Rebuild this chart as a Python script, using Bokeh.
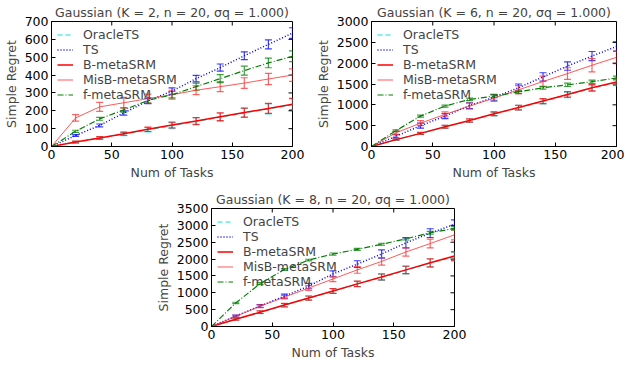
import math
from bokeh.plotting import figure
from bokeh.models import Whisker, ColumnDataSource, FixedTicker, TeeHead, Range1d, Spacer
from bokeh.layouts import row, column
from bokeh.embed import file_html
from bokeh.resources import INLINE

tasks = [0, 20, 40, 60, 80, 100, 120, 140, 160, 180, 200]
series_names = ["OracleTS", "TS", "B-metaSRM", "MisB-metaSRM", "f-metaSRM"]

# K = 2
k2_oracle = [0, 24, 47, 70, 94, 117, 141, 164, 188, 211, 234]
k2_ts = [0, 62, 118, 188, 255, 310, 380, 442, 508, 572, 635]
k2_b = [0, 25, 48, 72, 96, 120, 143, 167, 190, 213, 237]
k2_misb = [0, 160, 222, 245, 268, 290, 315, 335, 355, 378, 400]
k2_f = [0, 85, 155, 205, 258, 290, 335, 380, 425, 468, 505]
k2_oracle_err = [0, 5, 7, 9, 12, 17, 20, 22, 25, 28, 32]
k2_ts_err = [0, 5, 8, 12, 15, 18, 18, 20, 22, 25, 30]
k2_b_err = [0, 5, 7, 9, 12, 16, 19, 22, 25, 28, 32]
k2_misb_err = [0, 18, 25, 30, 25, 25, 25, 28, 30, 32, 35]
k2_f_err = [0, 6, 8, 12, 15, 18, 20, 22, 25, 27, 30]

# K = 6
k6_oracle = [0, 160, 310, 470, 620, 780, 930, 1080, 1240, 1400, 1540]
k6_ts = [0, 245, 500, 730, 980, 1180, 1410, 1670, 1930, 2170, 2400]
k6_b = [0, 165, 315, 475, 625, 785, 935, 1090, 1250, 1410, 1550]
k6_misb = [0, 330, 560, 770, 970, 1160, 1360, 1560, 1750, 1950, 2140]
k6_f = [0, 380, 730, 970, 1130, 1210, 1310, 1410, 1480, 1555, 1645]
k6_oracle_err = [0, 15, 25, 35, 40, 45, 55, 60, 65, 75, 80]
k6_ts_err = [0, 40, 60, 60, 70, 70, 90, 100, 100, 110, 110]
k6_b_err = [0, 15, 25, 35, 40, 45, 55, 60, 65, 75, 80]
k6_misb_err = [0, 40, 60, 60, 70, 80, 100, 130, 140, 160, 150]
k6_f_err = [0, 20, 25, 25, 30, 35, 35, 35, 40, 40, 45]

# K = 8
k8_oracle = [0, 215, 420, 630, 840, 1050, 1260, 1460, 1670, 1880, 2070]
k8_ts = [0, 310, 610, 900, 1200, 1560, 1850, 2150, 2480, 2770, 3030]
k8_b = [0, 215, 425, 635, 845, 1055, 1265, 1470, 1680, 1890, 2090]
k8_misb = [0, 300, 600, 870, 1140, 1410, 1680, 1930, 2210, 2460, 2720]
k8_f = [0, 700, 1270, 1690, 1970, 2150, 2290, 2440, 2600, 2780, 2910]
k8_oracle_err = [0, 30, 40, 50, 60, 70, 80, 90, 110, 120, 130]
k8_ts_err = [0, 30, 40, 60, 80, 90, 100, 120, 150, 130, 130]
k8_b_err = [0, 30, 40, 50, 60, 70, 80, 90, 110, 120, 130]
k8_misb_err = [0, 30, 40, 50, 70, 80, 100, 110, 120, 130, 150]
k8_f_err = [0, 20, 30, 25, 25, 30, 30, 30, 35, 40, 50]

x_ticks = [0, 50, 100, 150, 200]

FONT = "DejaVu Sans"
FS = "12.5px"
styles = [
    dict(color="#00e5e5", dash="5 3", width=1.2, alpha=1.0),
    dict(color="#0000ff", dash="1 2", width=1.5, alpha=1.0),
    dict(color="#ff0000", dash="solid", width=1.5, alpha=1.0),
    dict(color="#ff3030", dash="solid", width=1.0, alpha=0.8),
    dict(color="#008000", dash="6 2 1 2", width=1.2, alpha=1.0),
]


def style_axis(ax, label, ticks):
    ax.ticker = FixedTicker(ticks=ticks)
    ax.axis_label = label
    ax.major_label_text_font = FONT
    ax.major_label_text_font_size = FS
    ax.major_label_text_color = "black"
    ax.axis_label_text_font = FONT
    ax.axis_label_text_font_size = FS
    ax.axis_label_text_font_style = "normal"
    ax.axis_label_standoff = 3
    ax.major_label_standoff = 3
    ax.major_tick_in = 4
    ax.major_tick_out = 0
    ax.minor_tick_line_color = None
    ax.axis_line_color = "black"
    ax.major_tick_line_color = "black"


def make(title, ys, errs, ymax, ystep, width, height, bl, br, bt, bb):
    p = figure(width=width, height=height, output_backend="svg", toolbar_location=None,
               x_range=Range1d(0, 200), y_range=Range1d(0, ymax),
               min_border_left=bl, min_border_right=br, min_border_top=bt, min_border_bottom=bb)
    p.title.text = title
    p.title.align = "center"
    p.title.text_font = FONT
    p.title.text_font_size = FS
    p.title.text_font_style = "normal"
    p.title.standoff = 4
    p.grid.visible = False
    p.outline_line_color = "black"
    p.outline_line_width = 1
    p.outline_line_alpha = 1
    yt = list(range(0, ymax + 1, ystep))
    for ax in p.xaxis:
        style_axis(ax, "Num of Tasks", x_ticks)
    for ax in p.yaxis:
        style_axis(ax, "Simple Regret", yt)
    # inward tick marks on the top and right edges
    p.ray(x=[200] * len(yt), y=yt, length=4, length_units="screen", angle=math.pi,
          line_color="black", line_width=1)
    p.ray(x=x_ticks, y=[ymax] * len(x_ticks), length=4, length_units="screen",
          angle=-math.pi / 2, line_color="black", line_width=1)

    for name, y, e, st in zip(series_names, ys, errs, styles):
        p.line(tasks, y, line_color=st["color"], line_dash=st["dash"], line_width=st["width"],
               line_alpha=st["alpha"], legend_label=name)
        src = ColumnDataSource(dict(
            x=tasks[1:],
            upper=[a + b for a, b in zip(y[1:], e[1:])],
            lower=[a - b for a, b in zip(y[1:], e[1:])],
        ))
        w = Whisker(base="x", upper="upper", lower="lower", source=src,
                    line_color=st["color"], line_alpha=0.75, line_width=1.2,
                    upper_head=TeeHead(size=7, line_color=st["color"], line_alpha=0.75, line_width=1.2),
                    lower_head=TeeHead(size=7, line_color=st["color"], line_alpha=0.75, line_width=1.2))
        p.add_layout(w)

    lg = p.legend[0]
    lg.location = "top_left"
    lg.border_line_color = None
    lg.background_fill_alpha = 0
    lg.label_text_font = FONT
    lg.label_text_font_size = FS
    lg.label_height = 15
    lg.glyph_height = 15
    lg.glyph_width = 16
    lg.label_standoff = 10
    lg.spacing = 0
    lg.padding = 3
    lg.margin = 6
    return p


p1 = make("Gaussian (K = 2, n = 20, σq = 1.000)",
          [k2_oracle, k2_ts, k2_b, k2_misb, k2_f],
          [k2_oracle_err, k2_ts_err, k2_b_err, k2_misb_err, k2_f_err],
          700, 100, 312, 184, 40, 20, 20, 38)
p2 = make("Gaussian (K = 6, n = 20, σq = 1.000)",
          [k6_oracle, k6_ts, k6_b, k6_misb, k6_f],
          [k6_oracle_err, k6_ts_err, k6_b_err, k6_misb_err, k6_f_err],
          3000, 500, 312, 184, 58, 8, 20, 38)
p3 = make("Gaussian (K = 8, n = 20, σq = 1.000)",
          [k8_oracle, k8_ts, k8_b, k8_misb, k8_f],
          [k8_oracle_err, k8_ts_err, k8_b_err, k8_misb_err, k8_f_err],
          3500, 500, 322, 180, 50, 20, 24, 38)

layout = column(row(p1, p2), row(Spacer(width=152), p3), spacing=0)
open("out.html", "w").write(file_html(layout, INLINE))
